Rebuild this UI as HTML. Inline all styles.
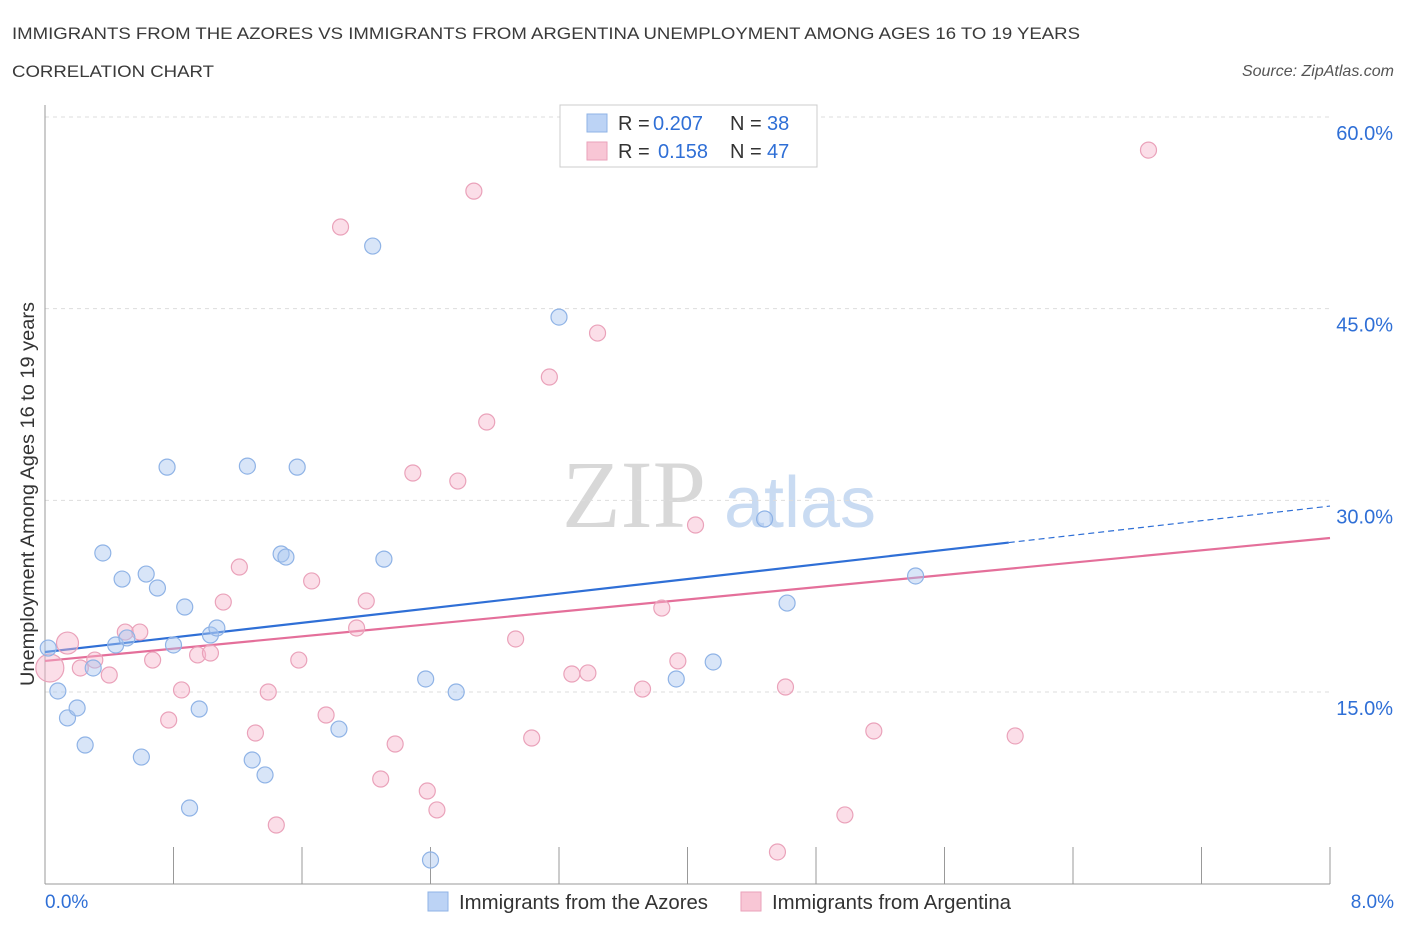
<!DOCTYPE html>
<html><head><meta charset="utf-8"><style>
body{margin:0;background:#fff;font-family:"Liberation Sans",sans-serif;}
svg{display:block}
</style></head><body>
<svg width="1406" height="930" viewBox="0 0 1406 930">
<text x="12" y="39" font-size="17" fill="#3a3a3a" textLength="1068" lengthAdjust="spacingAndGlyphs">IMMIGRANTS FROM THE AZORES VS IMMIGRANTS FROM ARGENTINA UNEMPLOYMENT AMONG AGES 16 TO 19 YEARS</text>
<text x="12" y="77" font-size="17" fill="#3a3a3a" textLength="202" lengthAdjust="spacingAndGlyphs">CORRELATION CHART</text>
<text x="1394" y="76" font-size="16" font-style="italic" fill="#555" text-anchor="end">Source: ZipAtlas.com</text>
<g>
<text x="634" y="527" font-size="96" font-family="Liberation Serif,serif" fill="#d8d8d8" text-anchor="middle">ZIP</text>
<text x="800" y="527" font-size="72" fill="#c9dbf2" text-anchor="middle">atlas</text>
</g>
<g id="grid"></g>
<g id="axes"></g>
<g id="lines"></g>
<g id="pts"></g>
<g>
<rect x="560" y="105" width="257" height="62" fill="#fff" stroke="#ccc"/>
<rect x="587" y="114" width="20" height="18" fill="#bcd3f5" stroke="#8fb3e6"/>
<rect x="587" y="142" width="20" height="18" fill="#f8c6d5" stroke="#eaa2ba"/>
<text x="618" y="130" font-size="20" fill="#333">R =</text>
<text x="653" y="130" font-size="20" fill="#2f6fd6">0.207</text>
<text x="730" y="130" font-size="20" fill="#333">N =</text>
<text x="767" y="130" font-size="20" fill="#2f6fd6">38</text>
<text x="618" y="158" font-size="20" fill="#333">R =</text>
<text x="658" y="158" font-size="20" fill="#2f6fd6">0.158</text>
<text x="730" y="158" font-size="20" fill="#333">N =</text>
<text x="767" y="158" font-size="20" fill="#2f6fd6">47</text>
</g>
<text transform="translate(34,494) rotate(-90)" font-size="19" fill="#333" text-anchor="middle" textLength="384" lengthAdjust="spacingAndGlyphs">Unemployment Among Ages 16 to 19 years</text>
<text x="45" y="908" font-size="19" fill="#2f6fd6">0.0%</text>
<text x="1394" y="908" font-size="19" fill="#2f6fd6" text-anchor="end">8.0%</text>
<g>
<rect x="428" y="892" width="20" height="19" fill="#bcd3f5" stroke="#8fb3e6"/>
<text x="459" y="909" font-size="20" fill="#333" textLength="249" lengthAdjust="spacingAndGlyphs">Immigrants from the Azores</text>
<rect x="741" y="892" width="20" height="19" fill="#f8c6d5" stroke="#eaa2ba"/>
<text x="772" y="909" font-size="20" fill="#333" textLength="239" lengthAdjust="spacingAndGlyphs">Immigrants from Argentina</text>
</g>
</svg>
<script>
const yTicks=[15,30,45,60];
const xTicks=[0,0.8,1.6,2.4,3.2,4,4.8,5.6,6.4,7.2,8];
const azoresX=[0.02,0.08,0.14,0.20,0.25,0.30,0.36,0.44,0.48,0.51,0.60,0.63,0.70,0.76,0.80,0.87,0.90,0.96,1.03,1.07,1.26,1.29,1.37,1.47,1.50,1.57,1.83,2.04,2.11,2.37,2.40,2.56,3.20,3.93,4.16,4.48,4.62,5.42];
const azoresY=[18.44,15.08,12.97,13.75,10.85,16.88,25.88,18.68,23.84,19.23,9.91,24.23,23.14,32.6,18.68,21.65,5.92,13.67,19.46,20.01,32.68,9.68,8.51,25.8,25.56,32.6,12.1,49.9,25.4,16.02,1.85,15.0,44.34,16.02,17.35,28.54,21.96,24.08];
const argX=[0.03,0.14,0.22,0.31,0.40,0.50,0.59,0.67,0.77,0.85,0.95,1.03,1.11,1.21,1.31,1.39,1.44,1.58,1.66,1.75,1.84,1.94,2.0,2.09,2.18,2.29,2.38,2.44,2.57,2.67,2.75,2.93,3.03,3.14,3.28,3.38,3.44,3.72,3.84,3.94,4.05,4.56,4.61,4.98,5.16,6.04,6.87];
const argY=[16.88,18.83,16.88,17.5,16.33,19.69,19.69,17.5,12.81,15.16,17.9,18.05,22.04,24.78,11.79,15.0,4.59,17.5,23.69,13.2,51.39,20.01,22.12,8.19,10.93,32.14,7.25,5.77,31.51,54.2,36.13,19.15,11.4,39.65,16.41,16.49,43.09,15.23,21.57,17.43,28.07,2.48,15.39,5.38,11.95,11.56,57.41];
const argR=[14,11];
const azoresTrend=[18.13,29.55];
const argTrend=[17.43,27.05];
const NS="http://www.w3.org/2000/svg";
const xs=v=>45+v*(1285/8);
const ys=v=>692-(v-15)*(575/45);
function mk(t,a,p){const e=document.createElementNS(NS,t);for(const k in a)e.setAttribute(k,a[k]);p.appendChild(e);return e;}
const grid=document.getElementById('grid'),axes=document.getElementById('axes');
yTicks.forEach(v=>{
 const l=mk('line',{x1:45,x2:1330,y1:ys(v),y2:ys(v),stroke:'#ddd','stroke-dasharray':'4,4'},grid);
 
 
 const t=mk('text',{x:1393,y:ys(v)+23,'font-size':20,fill:'#2f6fd6','text-anchor':'end'},axes);
 t.textContent=v.toFixed(1)+'%';
 
 
});
const ya=mk('line',{x1:45,x2:45,y1:105,y2:884,stroke:'#999'},axes);


const xa=mk('line',{x1:45,x2:1330,y1:884,y2:884,stroke:'#999'},axes);


xTicks.forEach(v=>{
 const l=mk('line',{x1:xs(v),x2:xs(v),y1:847,y2:884,stroke:'#999'},axes);
 
 
});
const lines=document.getElementById('lines');
const bx=6.0, by=azoresTrend[0]+(azoresTrend[1]-azoresTrend[0])*bx/8;
const b1=mk('line',{x1:xs(0),y1:ys(azoresTrend[0]),x2:xs(bx),y2:ys(by),stroke:'#2f6fd6','stroke-width':2.2},lines);


const b2=mk('line',{x1:xs(bx),y1:ys(by),x2:xs(8),y2:ys(azoresTrend[1]),stroke:'#2f6fd6','stroke-width':1.2,'stroke-dasharray':'6,4'},lines);


const p1=mk('line',{x1:xs(0),y1:ys(argTrend[0]),x2:xs(8),y2:ys(argTrend[1]),stroke:'#e46f9a','stroke-width':2.2},lines);


const pts=document.getElementById('pts');
argX.forEach((x,i)=>{
 const c=mk('circle',{cx:xs(x),cy:ys(argY[i]),r:argR[i]||8,fill:'rgba(246,182,203,0.45)',stroke:'#eaa2ba','stroke-width':1.2},pts);
 
 
});
azoresX.forEach((x,i)=>{
 const c=mk('circle',{cx:xs(x),cy:ys(azoresY[i]),r:8,fill:'rgba(168,198,240,0.45)',stroke:'#8fb3e6','stroke-width':1.2},pts);
 
 
});
</script>
</body></html>
